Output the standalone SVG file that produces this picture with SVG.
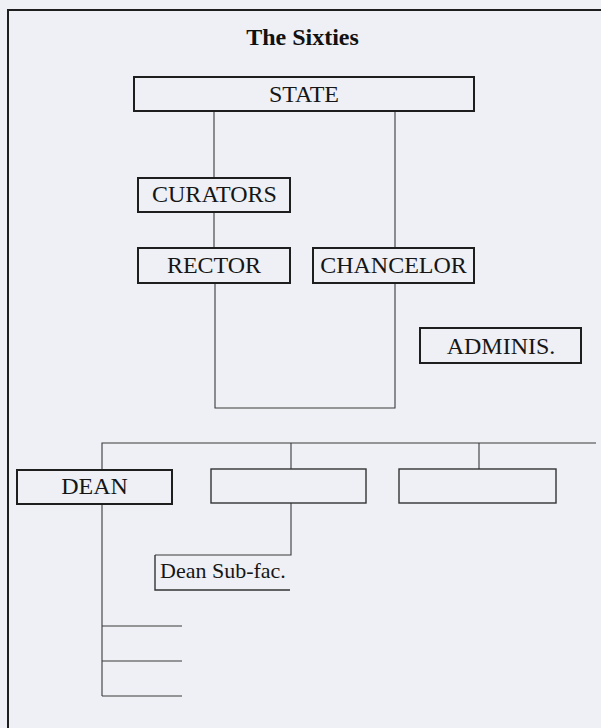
<svg xmlns="http://www.w3.org/2000/svg" width="601" height="728" viewBox="0 0 601 728">
  <style>
    .bg { fill: #eef0f5; }
    .frame { fill: none; stroke: #1e1e1e; stroke-width: 2; }
    .box { fill: none; stroke: #1e1e1e; stroke-width: 2; }
    .box-thin { fill: none; stroke: #333; stroke-width: 1.4; }
    .link { fill: none; stroke: #3a3a3a; stroke-width: 1.1; }
    .label { font-family: "Liberation Serif", "Times New Roman", serif; font-size: 24px; fill: #161616; text-anchor: middle; }
    .small { font-family: "Liberation Serif", "Times New Roman", serif; font-size: 22px; fill: #161616; }
    .title { font-family: "Liberation Serif", "Times New Roman", serif; font-size: 24px; font-weight: bold; fill: #111; text-anchor: middle; }
  </style>

  <rect class="bg" x="0" y="0" width="601" height="728"/>

  <!-- page frame: top and left rules -->
  <path class="frame" d="M601,10 H8 V728"/>

  <text class="title" x="302.5" y="45">The Sixties</text>

  <!-- connectors -->
  <g id="connectors">
    <line class="link" x1="214" y1="111" x2="214" y2="178"/>
    <line class="link" x1="214" y1="212" x2="214" y2="248"/>
    <line class="link" x1="395" y1="111" x2="395" y2="248"/>
    <path class="link" d="M215,283 V408 H395 V283"/>
    <path class="link" d="M102,470 V443 H596"/>
    <line class="link" x1="291" y1="443" x2="291" y2="469"/>
    <line class="link" x1="479" y1="443" x2="479" y2="469"/>
    <path class="link" d="M291,503 V555 H155"/>
    <line class="link" x1="102" y1="504" x2="102" y2="696"/>
    <line class="link" x1="102" y1="626" x2="182" y2="626"/>
    <line class="link" x1="102" y1="661" x2="182" y2="661"/>
    <line class="link" x1="102" y1="696" x2="182" y2="696"/>
  </g>

  <g id="state">
    <rect class="box" x="134" y="77" width="340" height="34"/>
    <text class="label" x="304" y="102">STATE</text>
  </g>

  <g id="curators">
    <rect class="box" x="138" y="178" width="152" height="34"/>
    <text class="label" x="214.5" y="202">CURATORS</text>
  </g>

  <g id="rector">
    <rect class="box" x="138" y="248" width="152" height="35"/>
    <text class="label" x="214" y="273">RECTOR</text>
  </g>

  <g id="chancelor">
    <rect class="box" x="313" y="248" width="161" height="35"/>
    <text class="label" x="393.5" y="273">CHANCELOR</text>
  </g>

  <g id="adminis">
    <rect class="box" x="420" y="328" width="161" height="35"/>
    <text class="label" x="501" y="354">ADMINIS.</text>
  </g>

  <g id="dean">
    <rect class="box" x="17" y="470" width="155" height="34"/>
    <text class="label" x="94.5" y="494">DEAN</text>
  </g>

  <g id="faculty-2">
    <rect class="box-thin" x="211" y="469" width="155" height="34"/>
  </g>

  <g id="faculty-3">
    <rect class="box-thin" x="399" y="469" width="157" height="34"/>
  </g>

  <g id="dean-sub-fac">
    <path class="box-thin" d="M155,555 V590 H290"/>
    <text class="small" x="160" y="578">Dean Sub-fac.</text>
  </g>
</svg>
